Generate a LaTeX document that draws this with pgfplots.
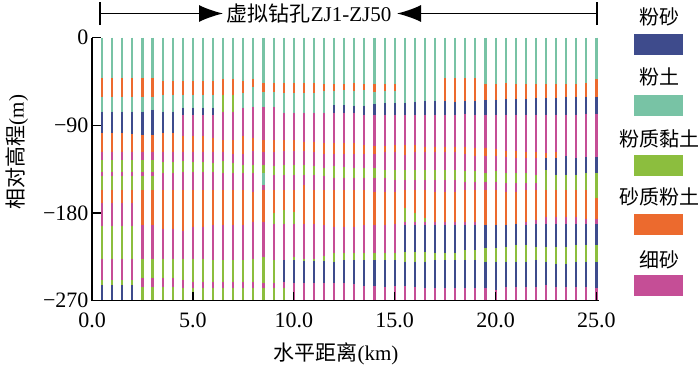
\documentclass[border=0pt]{standalone}
\usepackage{pgfplots}
\pgfplotsset{compat=1.18}
\usepackage{pgfplotstable}
\usepackage{fontspec}
\setmainfont{Liberation Serif}
\newfontfamily\cjk{Noto Sans CJK SC}
\usetikzlibrary{arrows.meta}

\definecolor{cBlue}{RGB}{62,75,140}
\definecolor{cTeal}{RGB}{120,195,165}
\definecolor{cGreen}{RGB}{140,190,62}
\definecolor{cOrange}{RGB}{236,106,46}
\definecolor{cPink}{RGB}{197,78,150}

% one row per layer: x (km), top and bottom depth (m), class
% 1 粉砂, 2 粉土, 3 粉质黏土, 4 砂质粉土, 5 细砂
\pgfplotstableread[row sep=\\]{
x t b c\\
0.5 0 42 2\\ 0.5 42 61 4\\ 0.5 61 76 2\\ 0.5 76 98 1\\ 0.5 98 117 4\\ 0.5 117 126 5\\ 0.5 126 138 3\\ 0.5 138 142 5\\ 0.5 142 156 3\\ 0.5 156 170 4\\ 0.5 170 193 5\\ 0.5 193 227 3\\ 0.5 227 249 5\\ 0.5 249 254 3\\ 0.5 254 270 1\\
1.0 0 42 2\\ 1.0 42 61 4\\ 1.0 61 76 2\\ 1.0 76 98 1\\ 1.0 98 117 4\\ 1.0 117 126 5\\ 1.0 126 138 3\\ 1.0 138 142 5\\ 1.0 142 156 3\\ 1.0 156 170 4\\ 1.0 170 193 5\\ 1.0 193 227 3\\ 1.0 227 249 5\\ 1.0 249 254 3\\ 1.0 254 270 1\\
1.5 0 42 2\\ 1.5 42 61 4\\ 1.5 61 76 2\\ 1.5 76 98 1\\ 1.5 98 117 4\\ 1.5 117 126 5\\ 1.5 126 138 3\\ 1.5 138 142 5\\ 1.5 142 156 3\\ 1.5 156 170 4\\ 1.5 170 193 5\\ 1.5 193 227 3\\ 1.5 227 249 5\\ 1.5 249 254 3\\ 1.5 254 270 1\\
2.0 0 42 2\\ 2.0 42 61 4\\ 2.0 61 76 2\\ 2.0 76 99 1\\ 2.0 99 117 4\\ 2.0 117 126 5\\ 2.0 126 138 3\\ 2.0 138 142 5\\ 2.0 142 156 3\\ 2.0 156 170 4\\ 2.0 170 193 5\\ 2.0 193 227 3\\ 2.0 227 249 5\\ 2.0 249 254 3\\ 2.0 254 270 1\\
2.5 0 42 2\\ 2.5 42 61 4\\ 2.5 61 76 2\\ 2.5 76 100 1\\ 2.5 100 117 4\\ 2.5 117 126 5\\ 2.5 126 138 3\\ 2.5 138 142 5\\ 2.5 142 156 3\\ 2.5 156 192 4\\ 2.5 192 227 5\\ 2.5 227 247 3\\ 2.5 247 256 5\\ 2.5 256 270 3\\
3.0 0 42 2\\ 3.0 42 61 4\\ 3.0 61 74 2\\ 3.0 74 100 1\\ 3.0 100 117 4\\ 3.0 117 126 5\\ 3.0 126 138 3\\ 3.0 138 142 5\\ 3.0 142 156 3\\ 3.0 156 192 4\\ 3.0 192 227 5\\ 3.0 227 247 3\\ 3.0 247 256 5\\ 3.0 256 270 3\\
3.5 0 45 2\\ 3.5 45 59 4\\ 3.5 59 76 2\\ 3.5 76 98 1\\ 3.5 98 117 4\\ 3.5 117 128 5\\ 3.5 128 139 3\\ 3.5 139 156 5\\ 3.5 156 196 4\\ 3.5 196 227 5\\ 3.5 227 247 3\\ 3.5 247 256 5\\ 3.5 256 270 3\\
4.0 0 45 2\\ 4.0 45 59 4\\ 4.0 59 76 2\\ 4.0 76 98 1\\ 4.0 98 117 4\\ 4.0 117 128 5\\ 4.0 128 139 3\\ 4.0 139 156 5\\ 4.0 156 196 4\\ 4.0 196 227 5\\ 4.0 227 247 3\\ 4.0 247 256 5\\ 4.0 256 270 3\\
4.5 0 45 2\\ 4.5 45 59 4\\ 4.5 59 72 2\\ 4.5 72 79 1\\ 4.5 79 101 5\\ 4.5 101 117 4\\ 4.5 117 127 5\\ 4.5 127 138 3\\ 4.5 138 156 5\\ 4.5 156 199 4\\ 4.5 199 227 5\\ 4.5 227 249 3\\ 4.5 249 257 5\\ 4.5 257 270 3\\
5.0 0 45 2\\ 5.0 45 59 4\\ 5.0 59 72 2\\ 5.0 72 79 1\\ 5.0 79 101 5\\ 5.0 101 117 4\\ 5.0 117 128 5\\ 5.0 128 138 3\\ 5.0 138 156 5\\ 5.0 156 194 4\\ 5.0 194 227 5\\ 5.0 227 251 3\\ 5.0 251 257 5\\ 5.0 257 270 3\\
5.5 0 45 2\\ 5.5 45 59 4\\ 5.5 59 72 2\\ 5.5 72 79 1\\ 5.5 79 101 5\\ 5.5 101 117 4\\ 5.5 117 128 5\\ 5.5 128 138 3\\ 5.5 138 156 5\\ 5.5 156 194 4\\ 5.5 194 227 5\\ 5.5 227 251 3\\ 5.5 251 257 5\\ 5.5 257 270 3\\
6.0 0 45 2\\ 6.0 45 59 4\\ 6.0 59 72 2\\ 6.0 72 79 1\\ 6.0 79 103 5\\ 6.0 103 117 4\\ 6.0 117 129 5\\ 6.0 129 138 3\\ 6.0 138 156 5\\ 6.0 156 192 4\\ 6.0 192 228 5\\ 6.0 228 251 3\\ 6.0 251 257 5\\ 6.0 257 270 3\\
6.5 0 43 2\\ 6.5 43 59 4\\ 6.5 59 76 3\\ 6.5 76 105 5\\ 6.5 105 117 4\\ 6.5 117 127 5\\ 6.5 127 139 3\\ 6.5 139 156 5\\ 6.5 156 192 4\\ 6.5 192 228 5\\ 6.5 228 251 3\\ 6.5 251 257 5\\ 6.5 257 270 3\\
7.0 0 43 2\\ 7.0 43 59 4\\ 7.0 59 76 3\\ 7.0 76 105 5\\ 7.0 105 119 4\\ 7.0 119 129 5\\ 7.0 129 139 3\\ 7.0 139 156 5\\ 7.0 156 192 4\\ 7.0 192 228 5\\ 7.0 228 251 3\\ 7.0 251 257 5\\ 7.0 257 270 3\\
7.5 0 45 2\\ 7.5 45 57 4\\ 7.5 57 72 2\\ 7.5 72 101 5\\ 7.5 101 119 4\\ 7.5 119 131 5\\ 7.5 131 139 3\\ 7.5 139 156 5\\ 7.5 156 192 4\\ 7.5 192 228 5\\ 7.5 228 251 3\\ 7.5 251 257 5\\ 7.5 257 270 3\\
8.0 0 43 2\\ 8.0 43 51 4\\ 8.0 51 71 2\\ 8.0 71 103 5\\ 8.0 103 116 4\\ 8.0 116 131 5\\ 8.0 131 139 3\\ 8.0 139 158 5\\ 8.0 158 189 4\\ 8.0 189 227 5\\ 8.0 227 251 3\\ 8.0 251 257 5\\ 8.0 257 270 3\\
8.5 0 47 2\\ 8.5 47 56 4\\ 8.5 56 71 2\\ 8.5 71 105 5\\ 8.5 105 117 4\\ 8.5 117 131 5\\ 8.5 131 139 3\\ 8.5 139 151 2\\ 8.5 151 156 5\\ 8.5 156 189 4\\ 8.5 189 225 5\\ 8.5 225 252 3\\ 8.5 252 257 5\\ 8.5 257 270 3\\
9.0 0 47 2\\ 9.0 47 56 4\\ 9.0 56 71 2\\ 9.0 71 105 5\\ 9.0 105 117 4\\ 9.0 117 132 5\\ 9.0 132 141 3\\ 9.0 141 156 5\\ 9.0 156 180 4\\ 9.0 180 191 3\\ 9.0 191 228 5\\ 9.0 228 252 3\\ 9.0 252 257 5\\ 9.0 257 270 3\\
9.5 0 47 2\\ 9.5 47 57 4\\ 9.5 57 77 2\\ 9.5 77 105 5\\ 9.5 105 116 4\\ 9.5 116 131 5\\ 9.5 131 141 3\\ 9.5 141 156 5\\ 9.5 156 177 4\\ 9.5 177 191 3\\ 9.5 191 228 5\\ 9.5 228 251 1\\ 9.5 251 257 5\\ 9.5 257 270 3\\
10.0 0 47 2\\ 10.0 47 57 4\\ 10.0 57 77 2\\ 10.0 77 105 5\\ 10.0 105 116 4\\ 10.0 116 131 5\\ 10.0 131 141 3\\ 10.0 141 156 5\\ 10.0 156 179 4\\ 10.0 179 191 3\\ 10.0 191 225 5\\ 10.0 225 228 3\\ 10.0 228 252 1\\ 10.0 252 270 5\\
10.5 0 47 2\\ 10.5 47 57 4\\ 10.5 57 77 2\\ 10.5 77 107 5\\ 10.5 107 116 4\\ 10.5 116 131 5\\ 10.5 131 141 3\\ 10.5 141 151 5\\ 10.5 151 191 4\\ 10.5 191 227 5\\ 10.5 227 229 3\\ 10.5 229 252 1\\ 10.5 252 270 5\\
11.0 0 47 2\\ 11.0 47 57 4\\ 11.0 57 77 2\\ 11.0 77 107 5\\ 11.0 107 117 4\\ 11.0 117 132 5\\ 11.0 132 141 3\\ 11.0 141 156 5\\ 11.0 156 191 4\\ 11.0 191 227 5\\ 11.0 227 229 3\\ 11.0 229 252 1\\ 11.0 252 270 5\\
11.5 0 48 2\\ 11.5 48 55 4\\ 11.5 55 77 2\\ 11.5 77 108 5\\ 11.5 108 119 4\\ 11.5 119 134 5\\ 11.5 134 142 3\\ 11.5 142 156 5\\ 11.5 156 192 4\\ 11.5 192 224 5\\ 11.5 224 229 3\\ 11.5 229 252 1\\ 11.5 252 270 5\\
12.0 0 48 2\\ 12.0 48 55 4\\ 12.0 55 69 2\\ 12.0 69 77 1\\ 12.0 77 108 5\\ 12.0 108 119 4\\ 12.0 119 132 5\\ 12.0 132 144 3\\ 12.0 144 156 5\\ 12.0 156 194 4\\ 12.0 194 221 5\\ 12.0 221 230 3\\ 12.0 230 252 1\\ 12.0 252 270 5\\
12.5 0 48 2\\ 12.5 48 54 4\\ 12.5 54 69 2\\ 12.5 69 77 1\\ 12.5 77 108 5\\ 12.5 108 119 4\\ 12.5 119 133 5\\ 12.5 133 144 3\\ 12.5 144 156 5\\ 12.5 156 194 4\\ 12.5 194 221 5\\ 12.5 221 228 3\\ 12.5 228 252 1\\ 12.5 252 270 5\\
13.0 0 47 2\\ 13.0 47 55 4\\ 13.0 55 70 2\\ 13.0 70 77 1\\ 13.0 77 108 5\\ 13.0 108 120 4\\ 13.0 120 134 5\\ 13.0 134 144 3\\ 13.0 144 156 5\\ 13.0 156 194 4\\ 13.0 194 221 5\\ 13.0 221 228 3\\ 13.0 228 253 1\\ 13.0 253 270 5\\
13.5 0 48 2\\ 13.5 48 54 4\\ 13.5 54 70 2\\ 13.5 70 79 1\\ 13.5 79 110 5\\ 13.5 110 119 4\\ 13.5 119 134 5\\ 13.5 134 144 3\\ 13.5 144 156 5\\ 13.5 156 192 4\\ 13.5 192 221 5\\ 13.5 221 228 3\\ 13.5 228 255 1\\ 13.5 255 270 5\\
14.0 0 48 2\\ 14.0 48 56 4\\ 14.0 56 68 2\\ 14.0 68 79 1\\ 14.0 79 111 5\\ 14.0 111 120 4\\ 14.0 120 134 5\\ 14.0 134 144 3\\ 14.0 144 158 5\\ 14.0 158 192 4\\ 14.0 192 221 5\\ 14.0 221 228 3\\ 14.0 228 255 1\\ 14.0 255 270 5\\
14.5 0 48 2\\ 14.5 48 55 4\\ 14.5 55 67 2\\ 14.5 67 79 1\\ 14.5 79 111 5\\ 14.5 111 117 4\\ 14.5 117 136 5\\ 14.5 136 144 3\\ 14.5 144 158 5\\ 14.5 158 192 4\\ 14.5 192 221 5\\ 14.5 221 228 3\\ 14.5 228 256 1\\ 14.5 256 270 5\\
15.0 0 48 2\\ 15.0 48 55 4\\ 15.0 55 67 2\\ 15.0 67 79 1\\ 15.0 79 110 5\\ 15.0 110 117 4\\ 15.0 117 136 5\\ 15.0 136 146 3\\ 15.0 146 158 5\\ 15.0 158 191 4\\ 15.0 191 221 5\\ 15.0 221 228 3\\ 15.0 228 255 1\\ 15.0 255 270 5\\
15.5 0 67 2\\ 15.5 67 80 1\\ 15.5 80 110 5\\ 15.5 110 121 4\\ 15.5 121 136 5\\ 15.5 136 146 3\\ 15.5 146 156 5\\ 15.5 156 175 4\\ 15.5 175 189 3\\ 15.5 189 192 5\\ 15.5 192 220 1\\ 15.5 220 230 3\\ 15.5 230 255 1\\ 15.5 255 270 5\\
16.0 0 66 2\\ 16.0 66 80 1\\ 16.0 80 110 5\\ 16.0 110 117 4\\ 16.0 117 136 5\\ 16.0 136 146 3\\ 16.0 146 156 5\\ 16.0 156 180 4\\ 16.0 180 189 3\\ 16.0 189 192 5\\ 16.0 192 220 1\\ 16.0 220 230 3\\ 16.0 230 256 1\\ 16.0 256 270 5\\
16.5 0 65 2\\ 16.5 65 79 1\\ 16.5 79 112 5\\ 16.5 112 117 4\\ 16.5 117 136 5\\ 16.5 136 146 3\\ 16.5 146 156 5\\ 16.5 156 185 4\\ 16.5 185 189 3\\ 16.5 189 192 5\\ 16.5 192 220 1\\ 16.5 220 230 3\\ 16.5 230 257 1\\ 16.5 257 270 5\\
17.0 0 65 2\\ 17.0 65 79 1\\ 17.0 79 112 5\\ 17.0 112 117 4\\ 17.0 117 136 5\\ 17.0 136 146 3\\ 17.0 146 158 5\\ 17.0 158 189 4\\ 17.0 189 192 5\\ 17.0 192 221 1\\ 17.0 221 228 3\\ 17.0 228 257 1\\ 17.0 257 270 5\\
17.5 0 42 2\\ 17.5 42 65 4\\ 17.5 65 79 1\\ 17.5 79 112 5\\ 17.5 112 117 4\\ 17.5 117 136 5\\ 17.5 136 146 3\\ 17.5 146 158 5\\ 17.5 158 189 4\\ 17.5 189 192 5\\ 17.5 192 221 1\\ 17.5 221 228 3\\ 17.5 228 257 1\\ 17.5 257 270 5\\
18.0 0 42 2\\ 18.0 42 66 4\\ 18.0 66 79 1\\ 18.0 79 112 5\\ 18.0 112 117 4\\ 18.0 117 136 5\\ 18.0 136 146 3\\ 18.0 146 158 5\\ 18.0 158 189 4\\ 18.0 189 192 5\\ 18.0 192 221 1\\ 18.0 221 228 3\\ 18.0 228 257 1\\ 18.0 257 270 5\\
18.5 0 42 2\\ 18.5 42 65 4\\ 18.5 65 78 1\\ 18.5 78 112 5\\ 18.5 112 120 4\\ 18.5 120 137 5\\ 18.5 137 148 3\\ 18.5 148 156 5\\ 18.5 156 189 4\\ 18.5 189 192 5\\ 18.5 192 218 1\\ 18.5 218 228 3\\ 18.5 228 257 1\\ 18.5 257 270 5\\
19.0 0 42 2\\ 19.0 42 65 4\\ 19.0 65 79 1\\ 19.0 79 113 5\\ 19.0 113 122 4\\ 19.0 122 137 5\\ 19.0 137 148 3\\ 19.0 148 156 5\\ 19.0 156 189 4\\ 19.0 189 192 5\\ 19.0 192 218 1\\ 19.0 218 228 3\\ 19.0 228 257 1\\ 19.0 257 270 5\\
19.5 0 48 2\\ 19.5 48 64 4\\ 19.5 64 79 1\\ 19.5 79 113 5\\ 19.5 113 122 4\\ 19.5 122 139 5\\ 19.5 139 148 3\\ 19.5 148 156 5\\ 19.5 156 192 4\\ 19.5 192 216 1\\ 19.5 216 230 3\\ 19.5 230 257 1\\ 19.5 257 270 5\\
20.0 0 48 2\\ 20.0 48 64 4\\ 20.0 64 79 1\\ 20.0 79 114 5\\ 20.0 114 122 4\\ 20.0 122 137 5\\ 20.0 137 148 3\\ 20.0 148 156 5\\ 20.0 156 192 4\\ 20.0 192 216 1\\ 20.0 216 230 3\\ 20.0 230 259 1\\ 20.0 259 270 5\\
20.5 0 47 2\\ 20.5 47 63 4\\ 20.5 63 79 1\\ 20.5 79 116 5\\ 20.5 116 123 4\\ 20.5 123 139 5\\ 20.5 139 149 3\\ 20.5 149 158 5\\ 20.5 158 192 4\\ 20.5 192 215 1\\ 20.5 215 230 3\\ 20.5 230 256 1\\ 20.5 256 270 5\\
21.0 0 48 2\\ 21.0 48 63 4\\ 21.0 63 79 1\\ 21.0 79 116 5\\ 21.0 116 124 4\\ 21.0 124 139 5\\ 21.0 139 149 3\\ 21.0 149 158 5\\ 21.0 158 191 4\\ 21.0 191 213 1\\ 21.0 213 230 3\\ 21.0 230 256 1\\ 21.0 256 270 5\\
21.5 0 48 2\\ 21.5 48 63 4\\ 21.5 63 79 1\\ 21.5 79 117 5\\ 21.5 117 124 4\\ 21.5 124 139 5\\ 21.5 139 149 3\\ 21.5 149 156 5\\ 21.5 156 189 4\\ 21.5 189 192 5\\ 21.5 192 213 1\\ 21.5 213 230 3\\ 21.5 230 256 1\\ 21.5 256 270 5\\
22.0 0 48 2\\ 22.0 48 62 4\\ 22.0 62 79 1\\ 22.0 79 117 5\\ 22.0 117 124 4\\ 22.0 124 141 5\\ 22.0 141 149 3\\ 22.0 149 156 5\\ 22.0 156 187 4\\ 22.0 187 191 5\\ 22.0 191 215 1\\ 22.0 215 228 3\\ 22.0 228 256 1\\ 22.0 256 270 5\\
22.5 0 48 2\\ 22.5 48 62 4\\ 22.5 62 79 1\\ 22.5 79 118 5\\ 22.5 118 124 4\\ 22.5 124 136 1\\ 22.5 136 156 3\\ 22.5 156 184 4\\ 22.5 184 191 5\\ 22.5 191 215 1\\ 22.5 215 230 3\\ 22.5 230 254 1\\ 22.5 254 270 5\\
23.0 0 48 2\\ 23.0 48 62 4\\ 23.0 62 79 1\\ 23.0 79 117 5\\ 23.0 117 124 4\\ 23.0 124 141 1\\ 23.0 141 156 3\\ 23.0 156 184 4\\ 23.0 184 191 5\\ 23.0 191 215 1\\ 23.0 215 232 3\\ 23.0 232 256 1\\ 23.0 256 270 5\\
23.5 0 48 2\\ 23.5 48 61 4\\ 23.5 61 79 1\\ 23.5 79 122 5\\ 23.5 122 141 1\\ 23.5 141 156 3\\ 23.5 156 184 4\\ 23.5 184 191 5\\ 23.5 191 215 1\\ 23.5 215 232 3\\ 23.5 232 256 1\\ 23.5 256 270 5\\
24.0 0 48 2\\ 24.0 48 61 4\\ 24.0 61 79 1\\ 24.0 79 124 5\\ 24.0 124 141 1\\ 24.0 141 156 3\\ 24.0 156 184 4\\ 24.0 184 191 5\\ 24.0 191 213 1\\ 24.0 213 230 3\\ 24.0 230 256 1\\ 24.0 256 270 5\\
24.5 0 47 2\\ 24.5 47 61 4\\ 24.5 61 78 1\\ 24.5 78 123 5\\ 24.5 123 139 1\\ 24.5 139 156 3\\ 24.5 156 186 4\\ 24.5 186 191 5\\ 24.5 191 213 1\\ 24.5 213 230 3\\ 24.5 230 256 1\\ 24.5 256 270 5\\
25.0 0 43 2\\ 25.0 43 61 4\\ 25.0 61 78 1\\ 25.0 78 123 5\\ 25.0 123 139 1\\ 25.0 139 165 3\\ 25.0 165 186 4\\ 25.0 186 191 5\\ 25.0 191 213 1\\ 25.0 213 230 3\\ 25.0 230 257 1\\ 25.0 257 270 5\\
}\soil

\begin{document}
\begin{tikzpicture}
\path[use as bounding box] (0pt,0pt) rectangle (700pt,368pt);
\begin{axis}[
  at={(92pt,67.3pt)}, anchor=south west,
  scale only axis, width=506.5pt, height=263.2pt,
  xmin=0, xmax=25.1, ymin=-270, ymax=0,
  clip=false, axis on top,
  axis x line*=bottom, axis y line*=left,
  axis line style={line width=1.4pt, black},
  tick align=inside, major tick length=9pt,
  tick style={line width=1.4pt, black},
  xtick={0,5,10,15,20,25},
  xticklabels={0.0,5.0,10.0,15.0,20.0,25.0},
  ytick={-270,-180,-90,0},
  yticklabels={−270,−180,−90,0},
  ticklabel style={font=\fontsize{22}{26}\selectfont},
  xticklabel style={yshift=-9pt},
  colormap={soil}{rgb255=(62,75,140) rgb255=(120,195,165) rgb255=(140,190,62) rgb255=(236,106,46) rgb255=(197,78,150)},
  point meta min=1, point meta max=5,
]
\addplot[point meta=\thisrow{c},
  quiver={u=0, v={\thisrow{t}-\thisrow{b}},
    every arrow/.append style={draw=mapped color, line width=2.1pt, line cap=butt}}]
  table[x=x, y expr=-\thisrow{t}] {\soil};
\end{axis}

% axis titles
\node[font=\fontsize{21}{25}\selectfont] at (336pt,14pt) {{\cjk 水平距离}(km)};
\node[font=\fontsize{21}{25}\selectfont, rotate=90] at (17pt,216pt) {{\cjk 相对高程}(m)};

% top banner
\node[font=\fontsize{21}{25}\selectfont] at (309pt,354pt) {{\cjk 虚拟钻孔}ZJ1-ZJ50};
\draw[line width=1.6pt] (100pt,343pt) -- (100pt,366pt);
\draw[line width=1.6pt, -{Latex[length=24pt,width=17pt]}] (100pt,354.5pt) -- (223pt,354.5pt);
\draw[line width=1.6pt] (597pt,343pt) -- (597pt,366pt);
\draw[line width=1.6pt, -{Latex[length=24pt,width=17pt]}] (597pt,354.5pt) -- (397pt,354.5pt);

% legend
\begin{scope}[font=\fontsize{20}{24}\selectfont\cjk]
\node at (659pt,351pt) {粉砂};
\fill[cBlue] (634pt,313.5pt) rectangle (683pt,334.5pt);
\node at (659pt,291pt) {粉土};
\fill[cTeal] (634pt,252.5pt) rectangle (683pt,273.5pt);
\node at (659pt,229pt) {粉质黏土};
\fill[cGreen] (634pt,192pt) rectangle (683pt,213pt);
\node at (659pt,171pt) {砂质粉土};
\fill[cOrange] (634pt,133pt) rectangle (683pt,154pt);
\node at (659pt,108pt) {细砂};
\fill[cPink] (634pt,72pt) rectangle (683pt,93pt);
\end{scope}
\end{tikzpicture}
\end{document}
